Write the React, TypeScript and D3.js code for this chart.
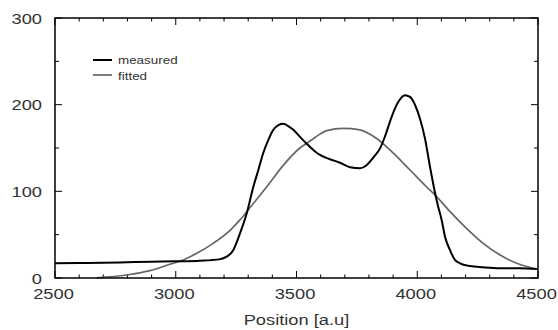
import React from "react";
import * as d3 from "d3";

const measuredX = [2500, 2600, 2700, 2800, 2900, 3000, 3100, 3180, 3211, 3238, 3266, 3294, 3321, 3342, 3362, 3383, 3404, 3425, 3445, 3459, 3487, 3514, 3542, 3577, 3597, 3639, 3680, 3722, 3763, 3790, 3818, 3846, 3866, 3894, 3921, 3949, 3970, 3991, 4011, 4032, 4053, 4073, 4087, 4101, 4115, 4136, 4156, 4177, 4218, 4273, 4343, 4425, 4495];
const measuredY = [17, 17.3, 17.6, 18.2, 18.8, 19.3, 20, 21.5, 24.6, 32, 51.5, 74.6, 105, 124.6, 144, 159, 171, 176.5, 178, 176.5, 171, 163, 155, 146, 142, 137, 133, 127.7, 126.5, 130, 139, 149.6, 163, 186, 203, 211, 209, 199.6, 184, 161, 128, 99, 82, 67, 47.7, 32, 20.8, 17, 13.8, 12.3, 11.2, 11.2, 10.4];

const fittedX = [2672, 2797, 2893, 2976, 3031, 3087, 3155, 3225, 3266, 3307, 3376, 3445, 3514, 3556, 3597, 3625, 3694, 3763, 3832, 3901, 3970, 4039, 4080, 4136, 4205, 4273, 4343, 4412, 4481, 4500];
const fittedY = [0.3, 3.5, 8.5, 15.8, 20.8, 28.5, 40, 55, 67, 81, 105, 130, 150, 158, 166, 170, 172.7, 171, 161, 144, 124.6, 105, 94, 76.5, 57, 40, 26.5, 17, 11.2, 10];

const xTicks = [2500, 3000, 3500, 4000, 4500];
const yTicks = [0, 100, 200, 300];
const legendLabels = ["measured", "fitted"];

const W = 558;
const H = 330;
const L = 55, R = 538, T = 18, B = 278;
const STRETCH = 1.22;
const FONT = "'Liberation Sans', Arial, Helvetica, sans-serif";

export default function App() {
  const x = d3.scaleLinear().domain([2500, 4500]).range([L, R]);
  const y = d3.scaleLinear().domain([0, 300]).range([B, T]);

  const line = d3
    .line<[number, number]>()
    .x((d) => x(d[0]))
    .y((d) => y(d[1]))
    .curve(d3.curveMonotoneX);

  const measured = measuredX.map((v, i) => [v, measuredY[i]] as [number, number]);
  const fitted = fittedX.map((v, i) => [v, fittedY[i]] as [number, number]);

  const xMinor = d3.range(2500, 4501, 100);
  const yMinor = d3.range(0, 301, 50);

  const stretchText = (tx: number, ty: number, anchor: string, size: number, txt: string, key?: string) => (
    <text
      key={key}
      transform={`translate(${tx},${ty}) scale(${STRETCH},1)`}
      textAnchor={anchor}
      fontSize={size}
      fontFamily={FONT}
      fill="#333"
    >
      {txt}
    </text>
  );

  return (
    <svg width={W} height={H} style={{ position: "fixed", left: 0, top: 0, background: "#fff" }}>
      <rect x={0} y={0} width={W} height={H} fill="#fff" />
      <g stroke="#000" strokeWidth={1}>
        {xMinor.map((v) => {
          const len = v % 500 === 0 ? 7 : 3.5;
          return (
            <g key={"xt" + v}>
              <line x1={x(v)} x2={x(v)} y1={B} y2={B - len} />
              <line x1={x(v)} x2={x(v)} y1={T} y2={T + len} />
            </g>
          );
        })}
        {yMinor.map((v) => {
          const len = v % 100 === 0 ? 7 : 4;
          return (
            <g key={"yt" + v}>
              <line x1={L} x2={L + len} y1={y(v)} y2={y(v)} />
              <line x1={R} x2={R - len} y1={y(v)} y2={y(v)} />
            </g>
          );
        })}
      </g>
      <path d={line(fitted) || ""} fill="none" stroke="#666" strokeWidth={1.7} />
      <path d={line(measured) || ""} fill="none" stroke="#000" strokeWidth={2} />
      <rect x={L} y={T} width={R - L} height={B - T} fill="none" stroke="#000" strokeWidth={1.5} />
      {yTicks.map((v) => stretchText(42, y(v) + 5.5, "end", 15, String(v), "yl" + v))}
      {xTicks.map((v) => stretchText(x(v) - 1.5, 299, "middle", 15, String(v), "xl" + v))}
      {stretchText((L + R) / 2, 325, "middle", 15, "Position [a.u]")}
      <line x1={93} x2={112} y1={60} y2={60} stroke="#000" strokeWidth={2} />
      <line x1={93} x2={112} y1={75} y2={75} stroke="#666" strokeWidth={1.7} />
      {stretchText(118, 64, "start", 11, legendLabels[0])}
      {stretchText(118, 79.5, "start", 11, legendLabels[1])}
    </svg>
  );
}
